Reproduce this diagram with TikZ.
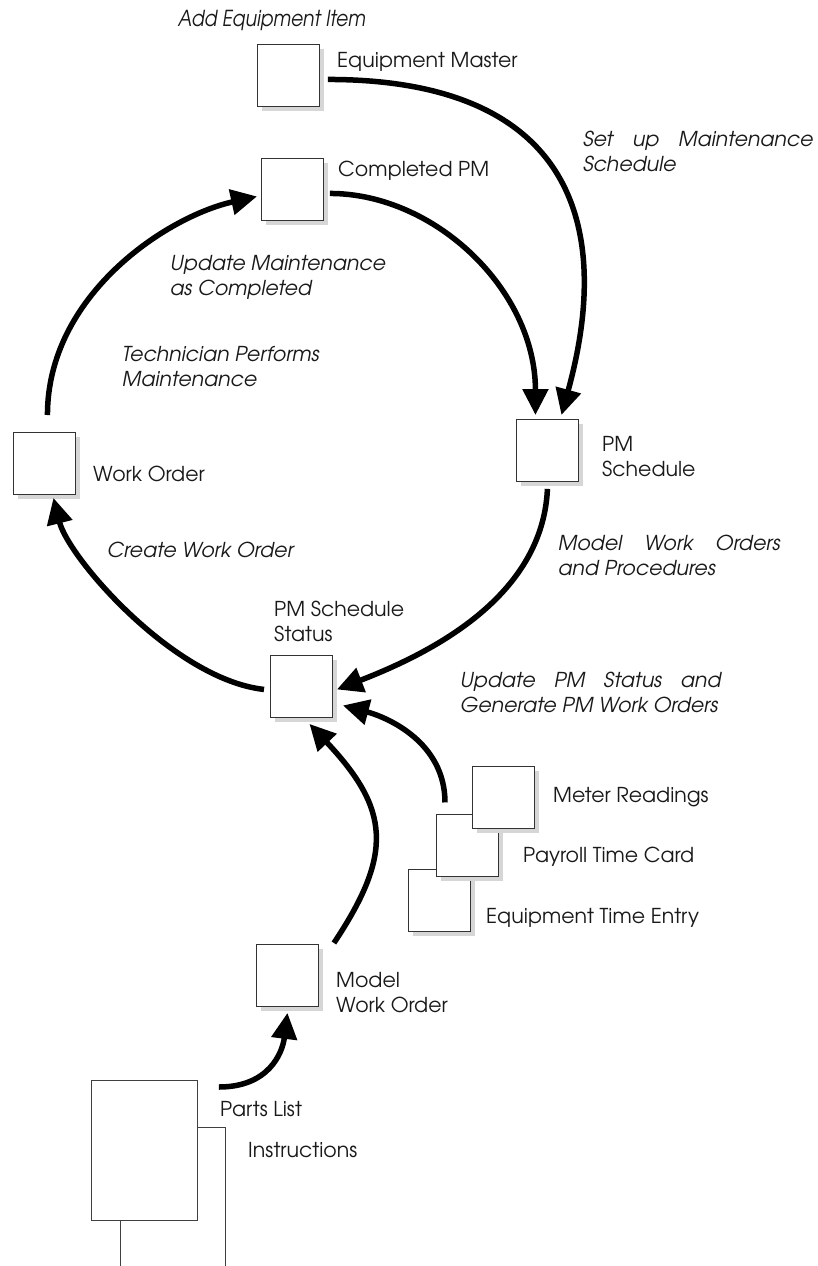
\documentclass[tikz,border=0pt]{standalone}
\usepackage{fontspec}
\setmainfont{texgyreadventor}[Extension=.otf, UprightFont=*-regular, ItalicFont=*-italic, BoldFont=*-bold]
\newfontfamily\narrowit{texgyreadventor}[Extension=.otf, UprightFont=*-italic, FakeStretch=0.85]
\usetikzlibrary{arrows.meta,calc}

\definecolor{shadowgrey}{gray}{0.84}

\tikzset{
  box/.style={draw=black!80, line width=0.9pt, fill=white, minimum width=62pt,
    minimum height=62pt, inner sep=0pt, anchor=north west},
  doc/.style={draw=black!75, line width=0.9pt, fill=white, inner sep=0pt, anchor=north west},
  lbl/.style={anchor=base west, inner sep=0pt, align=left, text=black!90,
    font=\fontsize{20.5}{25}\selectfont},
  act/.style={lbl, font=\fontsize{20.5}{25}\selectfont\itshape},
  flow/.style={line width=5.5pt, -{Triangle[length=26pt,width=25pt]}},
}

% a record box with its grey drop shadow: #1 name, #2 top-left corner
\newcommand\recordbox[2]{%
  \fill[shadowgrey] ($(#2)+(5,5)$) rectangle +(62,62);
  \node[box] (#1) at (#2) {};}

\begin{document}
\begin{tikzpicture}[x=1pt, y=-1pt]
\useasboundingbox (0,0) rectangle (817,1266);
\fill[white] (0,0) rectangle (817,1266);
\clip (0,0) rectangle (817,1266);

% records
\recordbox{em}{257,44}
\recordbox{cpm}{261,158}
\recordbox{pms}{516,419}
\recordbox{wo}{13,432}
\recordbox{pss}{270,655}
\recordbox{mwo}{256,944}
% stacked time sources, back to front
\recordbox{eqt}{408,869}
\recordbox{pay}{436,814}
\recordbox{met}{472,766}
% model documents
\node[doc, minimum width=105pt, minimum height=220pt] (ins) at (120,1127) {};
\node[doc, minimum width=106pt, minimum height=140pt] (parts) at (91,1080) {};

% record labels (base = baseline of the last line)
\node[lbl] (lem)  at (337,67)  {Equipment Master};
\node[lbl] (lcpm) at (338,176) {Completed PM};
\node[lbl] (lwo)  at (93,481)  {Work Order};
\node[lbl] (lpms) at (602,476) {PM\\Schedule};
\node[lbl] (lpss) at (274,641) {PM Schedule\\Status};
\node[lbl] (lmet) at (553,802) {Meter Readings};
\node[lbl] (lpay) at (523,862) {Payroll Time Card};
\node[lbl] (leqt) at (486,923) {Equipment Time Entry};
\node[lbl] (lmwo) at (336,1012) {Model\\Work Order};
\node[lbl] (lpar) at (220,1116) {Parts List};
\node[lbl] (lins) at (248,1157) {Instructions};

% activity labels
\node[lbl, font=\fontsize{22}{25}\selectfont\narrowit] (aadd) at (178,26) {Add Equipment Item};
\node[act] (aset) at (583,171) {\makebox[230pt][s]{Set up Maintenance}\\Schedule};
\node[act] (aupd) at (170,295) {Update Maintenance\\as Completed};
\node[act] (atec) at (122,386) {Technician Performs\\Maintenance};
\node[act] (acre) at (107,557) {Create Work Order};
\node[act] (amod) at (558,575) {\makebox[222pt][s]{Model Work Orders}\\and Procedures};
\node[act] (agen) at (460,712) {\makebox[261pt][s]{Update PM Status and}\\Generate PM Work Orders};

% flows
\draw[flow] ($(em.east)+(8,4)$) .. controls +(235,0) and +(55,-200) .. ($(pms.north)+(14,-4)$);
\draw[flow] ($(cpm.east)+(6,4)$) .. controls +(105,0) and +(0,-125) .. ($(pms.north)+(-12,-4)$);
\draw[flow] ($(wo.north)+(3,-17)$) .. controls +(0,-120) and +(-90,20) .. ($(cpm.west)+(-4,7)$);
\draw[flow] ($(pms.south)+(0,7)$) .. controls +(-5,110) and +(90,-35) .. ($(pss.east)+(4,3)$);
\draw[flow] ($(pss.west)+(-6,3)$) .. controls +(-90,-10) and +(15,60) .. ($(wo.south)+(9,3)$);
\draw[flow] ($(met.west)+(-27,5)$) .. controls +(0,-60) and +(45,12) .. ($(pss.east)+(10,19)$);
\draw[flow] ($(mwo.north east)+(15,-1)$) .. controls +(60,-90) and +(80,85) .. ($(pss.south)+(8,6)$);
\draw[flow] ($(parts.north east)+(21,7)$) .. controls +(50,0) and +(-5,40) .. ($(mwo.south)+(0,6)$);
\end{tikzpicture}
\end{document}
